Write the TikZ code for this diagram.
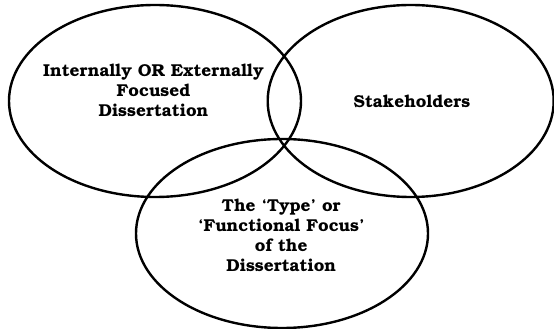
\documentclass[tikz,border=0pt]{standalone}
\usepackage[T1]{fontenc}
\usepackage{bookman}
\tikzset{
  every picture/.style={
    line width=2.4pt,
    x=1pt, y=1pt
  },
  circle text/.style={
    align=center, inner sep=0pt, anchor=base,
    font=\fontsize{17.2}{20}\selectfont\bfseries
  }
}

\begin{document}
\begin{tikzpicture}[
      ring/.style={draw=black}
    ]
      \useasboundingbox (0,0) rectangle (554,329);
      \coordinate (focus) at (155,228);
      \coordinate (stake) at (410.7,228);
      \coordinate (type) at (282,95.5);
      \draw [ring] (focus) ellipse [x radius=146, y radius=96];
      \draw [ring] (stake) ellipse [x radius=143, y radius=96];
      \draw [ring] (type) ellipse [x radius=146, y radius=94.5];
      \node [circle text] (focus text) at (153.5,212)
        {Internally OR Externally\\Focused\\Dissertation};
      \node [circle text] (stake text) at (412,221.3) {Stakeholders};
      \node [circle text] (type text) at (281.3,57.3)
        {The `Type' or\\`Functional Focus'\\of the\\Dissertation};
    \end{tikzpicture}
\end{document}
